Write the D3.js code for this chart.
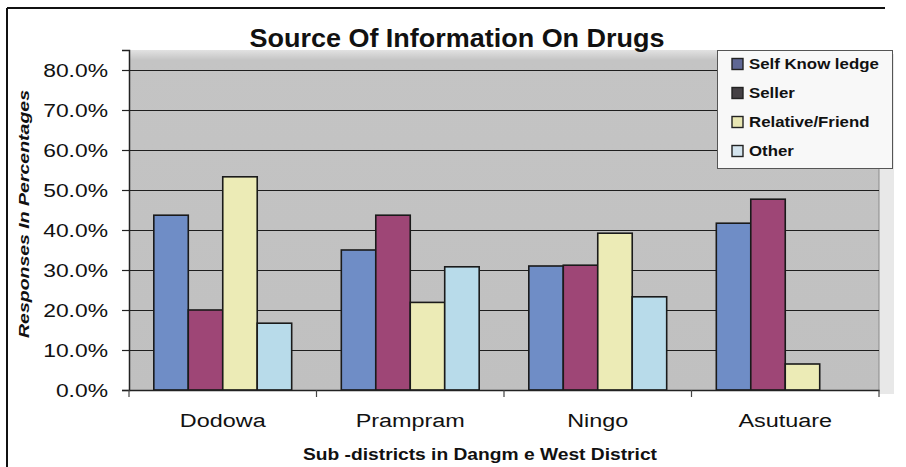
<!DOCTYPE html>
<html>
<head>
<meta charset="utf-8">
<script src="https://cdn.jsdelivr.net/npm/d3@7"></script>
<style>
  html, body { margin: 0; padding: 0; background: #ffffff; }
  svg { display: block; font-family: Arial, "Liberation Sans", Helvetica, sans-serif; }
</style>
</head>
<body>
<svg id="chart" width="906" height="467"></svg>
<script>
// ---- data ----
const categories = ["Dodowa", "Prampram", "Ningo", "Asutuare"];
const seriesNames = ["Self Know ledge", "Seller", "Relative/Friend", "Other"];
const selfKnowledge = [43.7, 35.0, 31.0, 41.7];
const seller = [20.0, 43.7, 31.2, 47.7];
const relativeFriend = [53.3, 21.9, 39.2, 6.5];
const other = [16.7, 30.8, 23.3, 0];
const yTickValues = [0, 10, 20, 30, 40, 50, 60, 70, 80];
const chartTitle = "Source Of Information On Drugs";
const xTitle = "Sub -districts in Dangm e West District";
const yTitle = "Responses In Percentages";

const seriesValues = [selfKnowledge, seller, relativeFriend, other];

// ---- styles ----
const barColors = ["#6f8dc6", "#9e4676", "#ecebb6", "#b8dbea"];
const swatchColors = ["#5f6794", "#444044", "#e9e7b4", "#d4e4ee"];

// stretch text glyphs horizontally (reference text is wide)
function stretch(sel, factor) {
  sel.each(function () {
    const l = this.getComputedTextLength();
    d3.select(this).attr("textLength", l * factor).attr("lengthAdjust", "spacingAndGlyphs");
  });
}

const svg = d3.select("#chart");

// chart frame (top and left edges visible)
svg.append("line").attr("x1", 7).attr("x2", 885).attr("y1", 8).attr("y2", 8)
  .attr("stroke", "#111").attr("stroke-width", 2);
svg.append("line").attr("x1", 7).attr("x2", 7).attr("y1", 8).attr("y2", 467)
  .attr("stroke", "#111").attr("stroke-width", 2);

const plot = { left: 129, right: 879, top: 50, bottom: 390 };

const x0 = d3.scaleBand().domain(categories).range([plot.left, plot.right]).paddingInner(0).paddingOuter(0);
const x1 = d3.scaleBand().domain(seriesNames).range([0, x0.bandwidth()]).paddingInner(0).paddingOuter(0.72);
const y = d3.scaleLinear().domain([0, 85]).range([plot.bottom, plot.top]);

// plot area shadow + background
svg.append("rect").attr("x", plot.right).attr("y", plot.top + 4)
  .attr("width", 15).attr("height", plot.bottom - plot.top)
  .attr("fill", "#e8e8e8");
const defs = svg.append("defs");
const grad = defs.append("linearGradient").attr("id", "pa").attr("x1", 0).attr("x2", 0).attr("y1", 0).attr("y2", 1);
grad.append("stop").attr("offset", "0").attr("stop-color", "#e2e2e2");
grad.append("stop").attr("offset", "0.03").attr("stop-color", "#c4c4c4");
grad.append("stop").attr("offset", "1").attr("stop-color", "#c0c0c0");
svg.append("rect").attr("x", plot.left).attr("y", plot.top)
  .attr("width", plot.right - plot.left).attr("height", plot.bottom - plot.top)
  .attr("fill", "url(#pa)");
svg.append("line").attr("x1", plot.right).attr("x2", plot.right)
  .attr("y1", plot.top + 2).attr("y2", plot.bottom)
  .attr("stroke", "#8a8a8a").attr("stroke-width", 1);

// gridlines
svg.append("g").selectAll("line").data(yTickValues.filter(d => d > 0)).join("line")
  .attr("x1", plot.left).attr("x2", plot.right)
  .attr("y1", d => Math.round(y(d)) + 0.5).attr("y2", d => Math.round(y(d)) + 0.5)
  .attr("stroke", "#1e1e1e").attr("stroke-width", 1.2);

// bars
const groups = svg.append("g").selectAll("g").data(categories).join("g")
  .attr("transform", d => `translate(${x0(d)},0)`);
groups.selectAll("rect")
  .data((c, ci) => seriesNames.map((s, si) => ({ s, si, v: seriesValues[si][ci] })).filter(d => d.v > 0))
  .join("rect")
  .attr("x", d => x1(d.s))
  .attr("y", d => y(d.v))
  .attr("width", x1.bandwidth())
  .attr("height", d => y(0) - y(d.v))
  .attr("fill", d => barColors[d.si])
  .attr("stroke", "#1a1a1a").attr("stroke-width", 1.6);

// y axis
const yAxis = d3.axisLeft(y).tickValues(yTickValues).tickSize(7).tickPadding(14)
  .tickFormat(d => d3.format(".1f")(d) + "%");
const yg = svg.append("g").attr("transform", `translate(${plot.left},0)`).call(yAxis);
yg.select(".domain").attr("stroke", "#222").attr("stroke-width", 1.5);
yg.selectAll(".tick line").attr("stroke", "#222").attr("stroke-width", 1.2);
yg.selectAll(".tick text")
  .attr("font-size", 18).attr("fill", "#111")
  .attr("font-family", "Arial, 'Liberation Sans', sans-serif")
  .attr("x", -21).attr("dy", "0.36em");
stretch(yg.selectAll(".tick text"), 1.27);

// x axis
const xAxis = d3.axisBottom(x0).tickSize(0).tickPadding(24);
const xg = svg.append("g").attr("transform", `translate(0,${plot.bottom})`).call(xAxis);
xg.select(".domain").attr("stroke", "#222").attr("stroke-width", 1.5);
xg.selectAll(".tick text")
  .attr("font-size", 18).attr("fill", "#111")
  .attr("font-family", "Arial, 'Liberation Sans', sans-serif");
stretch(xg.selectAll(".tick text"), 1.3);
// category boundary ticks
const bounds = categories.map(c => x0(c)).concat([plot.right]);
svg.append("g").selectAll("line").data(bounds).join("line")
  .attr("x1", d => d).attr("x2", d => d)
  .attr("y1", plot.bottom).attr("y2", plot.bottom + 7)
  .attr("stroke", "#444").attr("stroke-width", 1.2);

// title
svg.append("text").attr("x", 457).attr("y", 47).attr("text-anchor", "middle")
  .attr("font-size", 25).attr("font-weight", "bold").attr("fill", "#111")
  .attr("textLength", 415).attr("lengthAdjust", "spacingAndGlyphs")
  .text(chartTitle);

// x title
svg.append("text").attr("x", 480).attr("y", 460).attr("text-anchor", "middle")
  .attr("font-size", 16).attr("font-weight", "bold").attr("fill", "#111")
  .attr("textLength", 354).attr("lengthAdjust", "spacingAndGlyphs")
  .text(xTitle);

// y title
svg.append("text").attr("transform", "translate(29,214) rotate(-90)")
  .attr("text-anchor", "middle")
  .attr("font-size", 15).attr("font-weight", "bold").attr("font-style", "italic").attr("fill", "#111")
  .attr("textLength", 248).attr("lengthAdjust", "spacingAndGlyphs")
  .text(yTitle);

// legend
const lg = svg.append("g");
lg.append("rect").attr("x", 717.5).attr("y", 50.5).attr("width", 175).attr("height", 118)
  .attr("fill", "#f8f8f8").attr("stroke", "#555").attr("stroke-width", 1);
const rowY = d3.scalePoint().domain(seriesNames).range([64, 151]);
const items = lg.selectAll("g").data(seriesNames).join("g")
  .attr("transform", d => `translate(0,${rowY(d)})`);
items.append("rect").attr("x", 732).attr("y", -5.5).attr("width", 11).attr("height", 11)
  .attr("fill", (d, i) => swatchColors[i]).attr("stroke", "#222").attr("stroke-width", 1.4);
const legendText = items.append("text").attr("x", 749).attr("y", 5)
  .attr("font-size", 14).attr("font-weight", "bold").attr("fill", "#111")
  .text(d => d);
stretch(legendText, 1.2);
</script>
</body>
</html>
